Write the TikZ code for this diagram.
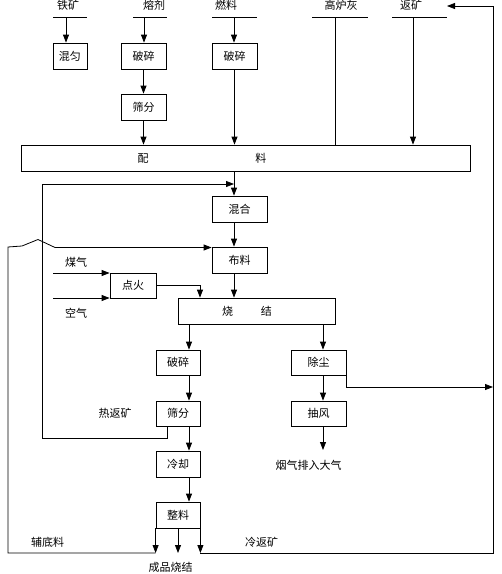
\documentclass[tikz,border=0pt]{standalone}
\usepackage{fontspec}
\newfontfamily\cjk{Noto Sans CJK SC}
\usetikzlibrary{arrows.meta}

\begin{document}
\begin{tikzpicture}[x=1pt,y=-1pt,line width=0.8pt,
  every node/.style={font=\cjk\fontsize{11}{11}\selectfont, inner sep=0pt},
  box/.style={draw, minimum height=26pt},
  arr/.style={-{Triangle[length=8pt,width=6pt]}}
]
\useasboundingbox (0,0) rectangle (502,574);

% raw materials
\foreach \name/\txt/\tx/\la/\lb/\dx in {tiekuang/铁矿/68/53/87/66, rongji/熔剂/154/133/167/144,
    ranliao/燃料/226/212/257/234, gaoluhui/高炉灰/341/312/368/335, fankuang/返矿/411/392/447/413}{
  \node (\name) at (\tx,5) {\txt};
  \draw (\la,17.5) coordinate (\name-l) -- (\lb,17.5) coordinate (\name-r);
  \coordinate (\name-d) at (\dx,17.5);
}

\node[box, minimum width=34pt] (hunyun) at (70,56) {混匀};
\node[box, minimum width=45pt] (posuiA) at (143.5,56) {破碎};
\node[box, minimum width=45pt] (shaifenA) at (143.5,107) {筛分};
\node[box, minimum width=45pt] (posuiB) at (234.5,56) {破碎};
\node[box, minimum width=449pt, label={[xshift=-43.5pt]center:配\hspace{107pt}料}] (peiliao) at (245.5,158) {};
\node[box, minimum width=55pt] (hunhe) at (239.5,209) {混合};
\node[box, minimum width=55pt] (buliao) at (239.5,260) {布料};
\node[box, minimum width=46pt, minimum height=25pt] (dianhuo) at (133,285.5) {点火};
\node[box, minimum width=157pt, label={[xshift=-9.5pt]center:烧\hspace{28pt}结}] (shaojie) at (256.5,311) {};
\node[box, minimum width=44pt, minimum height=25pt] (posuiC) at (178,362.5) {破碎};
\node[box, minimum width=55pt, minimum height=25pt] (chuchen) at (318.5,362.5) {除尘};
\node[box, minimum width=44pt, minimum height=25pt] (shaifenB) at (178,413.5) {筛分};
\node[box, minimum width=55pt, minimum height=25pt] (choufeng) at (318.5,413.5) {抽风};
\node[box, minimum width=44pt] (lengque) at (178,464) {冷却};
\node[box, minimum width=44pt] (zhengliao) at (178,515) {整料};

\node (meiqi) at (76,262) {煤气};
\node (kongqi) at (76,313) {空气};
\node (refan) at (115,413) {热返矿};
\node (yanqi) at (308.5,465) {烟气排入大气};
\node (fudi) at (47.5,542) {辅底料};
\node (lengfan) at (261.5,542) {冷返矿};
\node (chengpin) at (170.5,567) {成品烧结};

\coordinate (spine) at (234,0);
\coordinate (spineB) at (189,0);
\coordinate (spineC) at (323,0);
\coordinate (ignite) at (200,0);
\coordinate (meiqi-in) at (53,273);
\coordinate (kongqi-in) at (53,298);
\coordinate (yanqi-in) at (323,450);
\coordinate (dustout) at (493,387);
\coordinate (hotlow) at (42,438);
\coordinate (hotback) at (42,184);
\coordinate (baseL) at (8,553);
\coordinate (baseR) at (493,553);
\coordinate (topR) at (493,6);
\coordinate (bridgeA) at (8,247);
\coordinate (bridgeB) at (22,246);
\coordinate (bridgeC) at (38,239.5);
\coordinate (bridgeD) at (55,247.5);

\draw[arr] (tiekuang-d) -- (tiekuang-d |- hunyun.north);
\draw[arr] (rongji-d) -- (rongji-d |- posuiA.north);
\draw[arr] (posuiA) -- (shaifenA);
\draw[arr] (shaifenA.south) -- (shaifenA.south |- peiliao.north);
\draw[arr] (ranliao-d) -- (ranliao-d |- posuiB.north);
\draw[arr] (posuiB.south) -- (posuiB.south |- peiliao.north);
\draw (gaoluhui-d) -- (gaoluhui-d |- peiliao.north);
\draw[arr] (fankuang-d) -- (fankuang-d |- peiliao.north);

\draw[arr] (peiliao.south -| spine) -- (hunhe.north -| spine);
\draw[arr] (hunhe.south -| spine) -- (buliao.north -| spine);
\draw[arr] (buliao.south -| spine) -- (shaojie.north -| spine);
\draw[arr] (meiqi-in) -- (meiqi-in -| dianhuo.west);
\draw[arr] (kongqi-in) -- (kongqi-in -| dianhuo.west);
\draw[arr] (dianhuo.east) -| (shaojie.north -| ignite);

\draw[arr] (shaojie.south -| spineB) -- (posuiC.north -| spineB);
\draw[arr] (posuiC.south -| spineB) -- (shaifenB.north -| spineB);
\draw[arr] (shaifenB.south -| spineB) -- (lengque.north -| spineB);
\draw[arr] (lengque.south -| spineB) -- (zhengliao.north -| spineB);
\draw[arr] (shaojie.south -| spineC) -- (chuchen.north -| spineC);
\draw[arr] (chuchen.south -| spineC) -- (choufeng.north -| spineC);
\draw[arr] (choufeng.south -| spineC) -- (yanqi-in);
\draw[arr] (chuchen.south east) |- (dustout);

\draw[arr] ([xshift=-11pt]shaifenB.south) |- (hotlow) -- (hotback) -- (hotback -| spine);
\foreach \a in {south west, south, south east}
  \draw[arr] (zhengliao.\a) -- (zhengliao.\a |- baseL);
\draw[arr] (zhengliao.south west |- baseL) -- (baseL) -- (bridgeA) -- (bridgeB) -- (bridgeC) -- (bridgeD) -- (bridgeD -| buliao.west);
\draw[arr] (zhengliao.south east |- baseL) -- (baseR) -- (topR) -- (topR -| fankuang-r);

\end{tikzpicture}
\end{document}
